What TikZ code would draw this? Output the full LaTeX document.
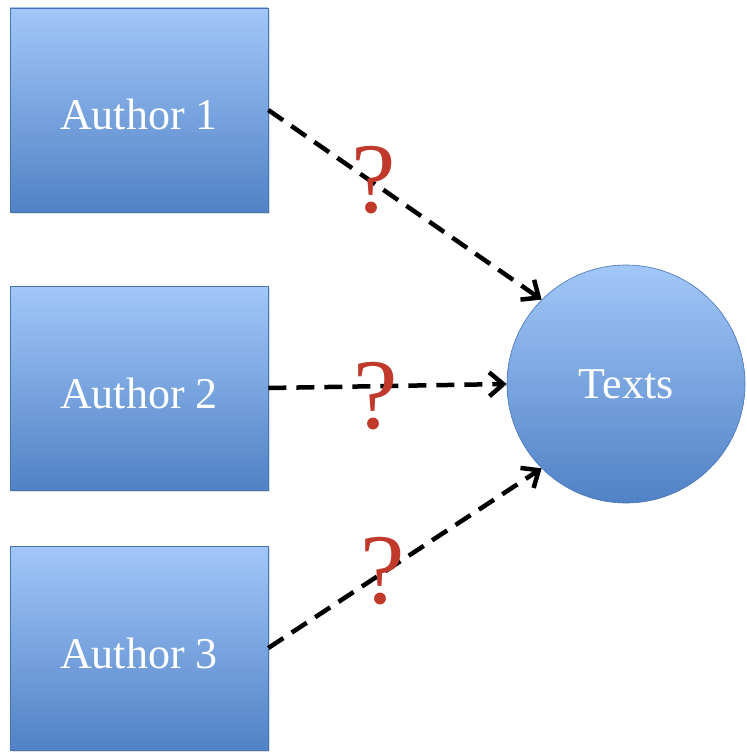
\documentclass[tikz,border=0pt]{standalone}
\usepackage{fontspec}
\setmainfont{Liberation Serif}
\usetikzlibrary{arrows.meta,shadows}
\definecolor{boxtop}{RGB}{162,199,248}
\definecolor{boxbot}{RGB}{80,130,198}
\definecolor{boxline}{RGB}{70,115,180}
\definecolor{qred}{RGB}{192,57,43}
\tikzset{
  author/.style={rectangle, minimum width=258pt, minimum height=204pt,
    top color=boxtop, bottom color=boxbot, draw=boxline, line width=0.6pt,
    drop shadow={shadow xshift=1.5pt, shadow yshift=-2pt, opacity=0.25},
    text=white, text height=40pt, text depth=0pt,
    font=\fontsize{44}{50}\selectfont},
  target/.style={circle, minimum size=238pt, inner sep=0pt,
    top color=boxtop, bottom color=boxbot, draw=boxline, line width=0.6pt,
    text=white, font=\fontsize{44}{50}\selectfont},
  link/.style={-{Straight Barb[length=14pt,width=24pt,line width=4.5pt]},
    line width=4.5pt, dash pattern=on 18pt off 10pt},
  query/.style={text=qred, font=\fontsize{100}{110}\selectfont}
}
\begin{document}
\begin{tikzpicture}[x=1pt, y=-1pt]
  \useasboundingbox (0,0) rectangle (746,754);
  \node[author] (a1) at (139,110) {Author 1};
  \node[author] (a2) at (139,388) {Author 2};
  \node[author] (a3) at (139,648) {Author 3};
  \node[target] (texts) at (626,384) {Texts};
  % links from each author to the texts
  \draw[link] (a1.east) -- (texts.135);
  \draw[link] (a2.east) -- (texts.west);
  \draw[link] (a3.east) -- (texts.225);
  \node[query] (q1) at (374,180) {?};
  \node[query] (q2) at (376,396) {?};
  \node[query] (q3) at (383,571) {?};
\end{tikzpicture}
\end{document}
